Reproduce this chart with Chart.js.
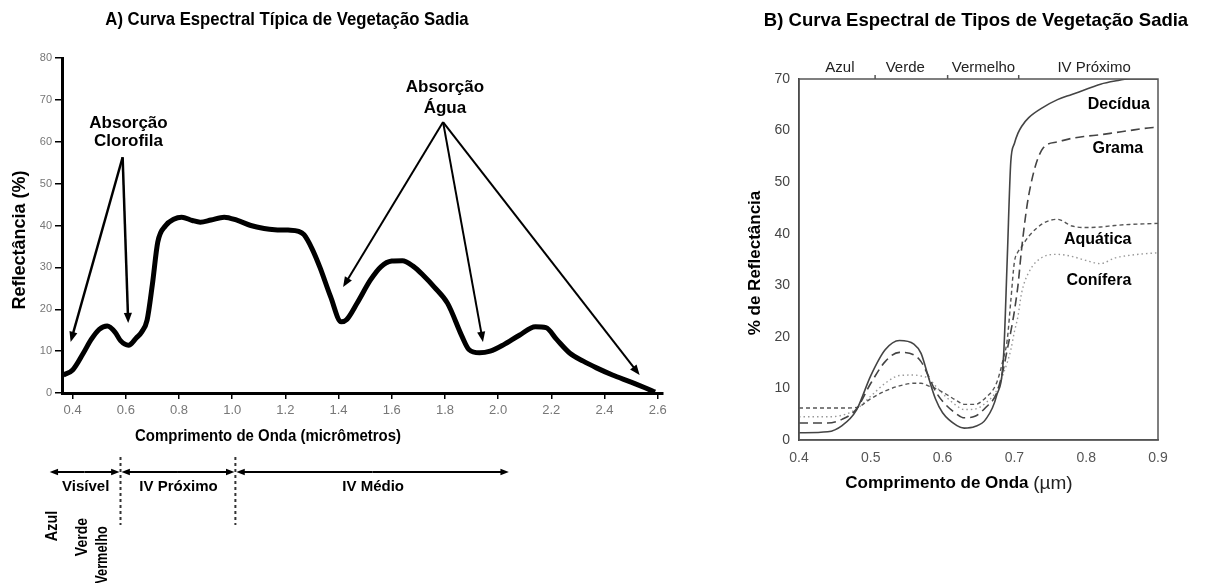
<!DOCTYPE html>
<html>
<head>
<meta charset="utf-8">
<script src="https://cdn.jsdelivr.net/npm/chart.js@4.4.1/dist/chart.umd.min.js"></script>
<style>
  html, body { margin: 0; padding: 0; background: #fff; }
  #wrap { position: relative; width: 1214px; height: 583px; overflow: hidden; }
  #cA { position: absolute; left: 0; top: 0; }
  #cB { position: absolute; left: 700px; top: 0; }
</style>
</head>
<body>
<div id="wrap">
  <canvas id="cA" width="690" height="583"></canvas>
  <canvas id="cB" width="514" height="583"></canvas>
</div>
<script>
// ---- A) curva típica ----
const waveA = [0.365, 0.40, 0.44, 0.47, 0.50, 0.53, 0.56, 0.58, 0.61, 0.64, 0.66, 0.68, 0.70, 0.72, 0.75,
  0.78, 0.81, 0.85, 0.88, 0.92, 0.97, 1.02, 1.07, 1.12, 1.16, 1.21, 1.25, 1.27, 1.30, 1.33, 1.37,
  1.41, 1.43, 1.47, 1.52, 1.56, 1.60, 1.64, 1.68, 1.72, 1.76, 1.81, 1.865, 1.89, 1.93, 1.97, 2.02,
  2.08, 2.14, 2.18, 2.22, 2.27, 2.32, 2.37, 2.43, 2.50, 2.55, 2.59];
const reflA = [4.3, 5.5, 9.5, 12.8, 15.2, 16, 14.5, 12.5, 11.4, 13.2, 14.6, 17.4, 26, 36, 40,
  41.5, 42, 41.2, 40.8, 41.3, 42, 41.2, 40, 39.3, 39, 38.9, 38.6, 37.8, 34.5, 30, 23,
  17, 17.5, 21.5, 27, 30.2, 31.5, 31.6, 30.3, 28, 25.3, 21.4, 13.4, 10.4, 9.6, 10, 11.5,
  13.8, 15.8, 15.6, 12.8, 9.5, 7.6, 6, 4.3, 2.6, 1.3, 0.2];
const xTicksA = [0.4, 0.6, 0.8, 1.0, 1.2, 1.4, 1.6, 1.8, 2.0, 2.2, 2.4, 2.6];
const yTicksA = [0, 10, 20, 30, 40, 50, 60, 70, 80];

// anotações (coordenadas em dados)
const calloutsA = [
  { lines: ["Absorção", "Clorofila"], x: 0.61, ys: [64.4, 60.1], from: [0.588, 56.3],
    to: [[0.3925, 12.2], [0.609, 16.7]], w: 2.5 },
  { lines: ["Absorção", "Água"], x: 1.80, ys: [73, 68], from: [1.793, 64.7],
    to: [[1.417, 25.3], [1.943, 12.2], [2.532, 4.3]], w: 2 },
];

// faixas do espectro (abaixo do eixo)
const bandEdges = [0.31, 0.58, 1.012, 2.044];
const bandNames = ["Visível", "IV Próximo", "IV Médio"];
const bandNameX = [0.449, 0.798, 1.53];
const visNames = ["Azul", "Verde", "Vermelho"];
const visNameX = [0.325, 0.4375, 0.5126];

// ---- B) tipos de vegetação ----
const waveB = [0.40, 0.44, 0.46, 0.48, 0.50, 0.52, 0.54, 0.56, 0.57, 0.58, 0.59, 0.60, 0.62, 0.63,
  0.645, 0.66, 0.675, 0.685, 0.69, 0.695, 0.70, 0.705, 0.71, 0.72, 0.74, 0.76, 0.78, 0.80, 0.82,
  0.84, 0.86, 0.88, 0.90];
const decidua = [1.4, 1.6, 2.8, 5.8, 12.5, 17.5, 19.3, 18.6, 16.8, 12.3, 8, 5.3, 2.8, 2.3,
  2.6, 4, 8.5, 16.5, 35, 54, 57.5, 59.5, 60.8, 62.5, 64.5, 66, 67, 68, 69,
  69.6, 70, 70, 70];
const grama = [3.3, 3.3, 4, 6, 11, 15.2, 17, 16.5, 15.2, 12.5, 9.5, 7.5, 5, 4.3,
  4.6, 6.3, 9, 14, 17.5, 21, 25, 30, 37, 47.5, 56.6, 57.8, 58.5, 58.9, 59.2,
  59.6, 60, 60.4, 60.7];
const aquatica = [6.2, 6.2, 6.2, 6.3, 8, 9.5, 10.5, 11, 11, 10.5, 10, 9.3, 7.6, 6.9,
  6.9, 8.2, 11, 16, 19.4, 27, 34.5, 36.5, 37.5, 39.5, 42, 42.8, 41.5, 41.2, 41.3,
  41.6, 41.8, 41.9, 42];
const conifera = [4.5, 4.5, 4.8, 6, 8.5, 11, 12.5, 12.6, 12.4, 12, 10.5, 9, 6.6, 5.9,
  6, 7.2, 9.5, 13, 15, 17.5, 21, 24, 28.5, 32.5, 35.5, 36, 35.6, 34.8, 34.2,
  35.3, 35.8, 36.1, 36.3];
const xTicksB = [0.4, 0.5, 0.6, 0.7, 0.8, 0.9];
const yTicksB = [0, 10, 20, 30, 40, 50, 60, 70];
const seriesNamesB = ["Decídua", "Grama", "Aquática", "Conífera"];
const labelPosB = [[0.8455, 65], [0.844, 56.6], [0.816, 38.8], [0.8176, 31]];
const topBands = ["Azul", "Verde", "Vermelho", "IV Próximo"];
const topBandX = [0.457, 0.548, 0.657, 0.811];
const topMarks = [0.506, 0.607, 0.706];

const FONT = "'Liberation Sans', Arial, Helvetica, sans-serif";
Chart.defaults.font.family = FONT;

function text(ctx, str, x, y, font, opt = {}) {
  ctx.save();
  ctx.translate(x, y);
  if (opt.rot) ctx.rotate(opt.rot);
  if (opt.sx) ctx.scale(opt.sx, 1);
  ctx.font = font;
  ctx.fillStyle = opt.color || "#000";
  ctx.textAlign = opt.align || "center";
  ctx.textBaseline = "middle";
  ctx.fillText(str, 0, 0);
  ctx.restore();
}

function arrow(ctx, x1, y1, x2, y2, w, head) {
  const a = Math.atan2(y2 - y1, x2 - x1);
  ctx.save();
  ctx.strokeStyle = "#000";
  ctx.fillStyle = "#000";
  ctx.lineWidth = w;
  ctx.beginPath();
  ctx.moveTo(x1, y1);
  ctx.lineTo(x2 - Math.cos(a) * head * 0.7, y2 - Math.sin(a) * head * 0.7);
  ctx.stroke();
  ctx.beginPath();
  ctx.moveTo(x2, y2);
  ctx.lineTo(x2 - head * Math.cos(a - 0.38), y2 - head * Math.sin(a - 0.38));
  ctx.lineTo(x2 - head * Math.cos(a + 0.38), y2 - head * Math.sin(a + 0.38));
  ctx.closePath();
  ctx.fill();
  ctx.restore();
}

const bold = (n) => `bold ${n}px ${FONT}`;
const reg = (n) => `${n}px ${FONT}`;

// textos e setas do gráfico A
const decorA = {
  id: "decorA",
  afterDatasetsDraw(chart) {
    const { ctx, chartArea: ca, scales: { x, y } } = chart;
    text(ctx, "A) Curva Espectral Típica de Vegetação Sadia", 287, 20, bold(19), { sx: 0.88 });
    text(ctx, "Reflectância (%)", 20, 240, bold(18), { rot: -Math.PI / 2 });
    text(ctx, "Comprimento de Onda (micrômetros)", 268, 436, bold(17), { sx: 0.88 });

    calloutsA.forEach((c) => {
      c.lines.forEach((t, i) => text(ctx, t, x.getPixelForValue(c.x), y.getPixelForValue(c.ys[i]), bold(17)));
      const fx = x.getPixelForValue(c.from[0]), fy = y.getPixelForValue(c.from[1]);
      c.to.forEach(([tx, ty]) => arrow(ctx, fx, fy, x.getPixelForValue(tx), y.getPixelForValue(ty), c.w, 11));
    });

    // barra das regiões espectrais
    const yb = ca.bottom + 79;
    for (let i = 0; i < bandNames.length; i++) {
      const a = x.getPixelForValue(bandEdges[i]) + 1;
      const b = x.getPixelForValue(bandEdges[i + 1]) - 1;
      arrow(ctx, (a + b) / 2, yb, a, yb, 2, 9);
      arrow(ctx, (a + b) / 2, yb, b, yb, 2, 9);
      text(ctx, bandNames[i], x.getPixelForValue(bandNameX[i]), ca.bottom + 94, bold(15));
    }
    ctx.save();
    ctx.setLineDash([3, 3]);
    ctx.lineWidth = 2;
    ctx.strokeStyle = "#333";
    [bandEdges[1], bandEdges[2]].forEach((v) => {
      const px = x.getPixelForValue(v);
      ctx.beginPath();
      ctx.moveTo(px, ca.bottom + 64);
      ctx.lineTo(px, ca.bottom + 132);
      ctx.stroke();
    });
    ctx.restore();
    const visY = [133, 144, 162];
    const visSx = [0.9, 0.88, 0.8];
    visNames.forEach((t, i) =>
      text(ctx, t, x.getPixelForValue(visNameX[i]), ca.bottom + visY[i], bold(16), { rot: -Math.PI / 2, sx: visSx[i] }));
  },
};

new Chart(document.getElementById("cA"), {
  type: "line",
  data: {
    datasets: [{
      data: waveA.map((v, i) => ({ x: v, y: reflA[i] })),
      borderColor: "#000",
      borderWidth: 5,
      pointRadius: 0,
      cubicInterpolationMode: "monotone",
      fill: false,
    }],
  },
  options: {
    responsive: false,
    animation: false,
    layout: { padding: { top: 58, right: 27, left: 0, bottom: 0 } },
    plugins: { legend: { display: false }, tooltip: { enabled: false } },
    scales: {
      x: {
        type: "linear", min: 0.36, max: 2.62,
        afterBuildTicks: (s) => { s.ticks = xTicksA.map((v) => ({ value: v })); },
        afterFit: (s) => { s.height = 190; },
        ticks: { callback: (v) => v.toFixed(1), color: "#777", font: { size: 13 }, padding: 4, maxRotation: 0, autoSkip: false },
        grid: { drawOnChartArea: false, drawTicks: true, tickLength: 6, color: "#000", lineWidth: 1.5 },
        border: { color: "#000", width: 3 },
      },
      y: {
        min: 0, max: 80,
        afterBuildTicks: (s) => { s.ticks = yTicksA.map((v) => ({ value: v })); },
        afterFit: (s) => { s.width = 62; },
        ticks: { color: "#777", font: { size: 11 }, padding: 3 },
        grid: { drawOnChartArea: false, drawTicks: true, tickLength: 7, color: "#000", lineWidth: 1.5 },
        border: { color: "#000", width: 3 },
      },
    },
  },
  plugins: [decorA],
});

// textos do gráfico B
const decorB = {
  id: "decorB",
  afterDatasetsDraw(chart) {
    const { ctx, chartArea: ca, scales: { x, y } } = chart;
    ctx.save();
    ctx.strokeStyle = "#555";
    ctx.lineWidth = 1.5;
    ctx.strokeRect(ca.left, ca.top, ca.right - ca.left, ca.bottom - ca.top);
    topMarks.forEach((v) => {
      const px = x.getPixelForValue(v);
      ctx.beginPath();
      ctx.moveTo(px, ca.top - 4);
      ctx.lineTo(px, ca.top);
      ctx.stroke();
    });
    ctx.restore();

    text(ctx, "B) Curva Espectral de Tipos de Vegetação Sadia", 276, 21, bold(18.5));
    topBands.forEach((t, i) => text(ctx, t, x.getPixelForValue(topBandX[i]), ca.top - 11, reg(15), { color: "#222" }));
    seriesNamesB.forEach((t, i) =>
      text(ctx, t, x.getPixelForValue(labelPosB[i][0]), y.getPixelForValue(labelPosB[i][1]), bold(16)));
    text(ctx, "% de Reflectância", 55, 263, bold(17), { rot: -Math.PI / 2 });

    // título do eixo x: parte em negrito + unidade
    ctx.save();
    const p1 = "Comprimento de Onda ", p2 = "(\u00b5m)";
    ctx.font = bold(17);
    const w1 = ctx.measureText(p1).width;
    ctx.font = reg(19);
    const w2 = ctx.measureText(p2).width;
    ctx.restore();
    const x0 = 259 - (w1 + w2) / 2;
    text(ctx, p1, x0, 483, bold(17), { align: "left" });
    text(ctx, p2, x0 + w1, 484, reg(19), { align: "left", color: "#222" });
  },
};

const lineB = (vals, color, width, dash) => ({
  data: waveB.map((v, i) => ({ x: v, y: vals[i] })),
  borderColor: color,
  borderWidth: width,
  borderDash: dash,
  pointRadius: 0,
  cubicInterpolationMode: "monotone",
  fill: false,
});

new Chart(document.getElementById("cB"), {
  type: "line",
  data: {
    datasets: [
      lineB(decidua, "#444", 1.6, []),
      lineB(grama, "#444", 1.6, [9, 5]),
      lineB(aquatica, "#555", 1.4, [4, 3]),
      lineB(conifera, "#999", 1.4, [1.5, 3]),
    ],
  },
  options: {
    responsive: false,
    animation: false,
    layout: { padding: { top: 79, right: 56, left: 0, bottom: 0 } },
    plugins: { legend: { display: false }, tooltip: { enabled: false } },
    scales: {
      x: {
        type: "linear", min: 0.4, max: 0.9,
        afterBuildTicks: (s) => { s.ticks = xTicksB.map((v) => ({ value: v })); },
        afterFit: (s) => { s.height = 143; },
        ticks: { callback: (v) => v.toFixed(1), color: "#555", font: { size: 14 }, padding: 10, maxRotation: 0, autoSkip: false },
        grid: { drawOnChartArea: false, drawTicks: false },
        border: { color: "#555", width: 1.5 },
      },
      y: {
        min: 0, max: 70,
        afterBuildTicks: (s) => { s.ticks = yTicksB.map((v) => ({ value: v })); },
        afterFit: (s) => { s.width = 99; },
        ticks: { color: "#444", font: { size: 14 }, padding: 9 },
        grid: { drawOnChartArea: false, drawTicks: false },
        border: { color: "#333", width: 1.5 },
      },
    },
  },
  plugins: [decorB],
});
</script>
</body>
</html>
